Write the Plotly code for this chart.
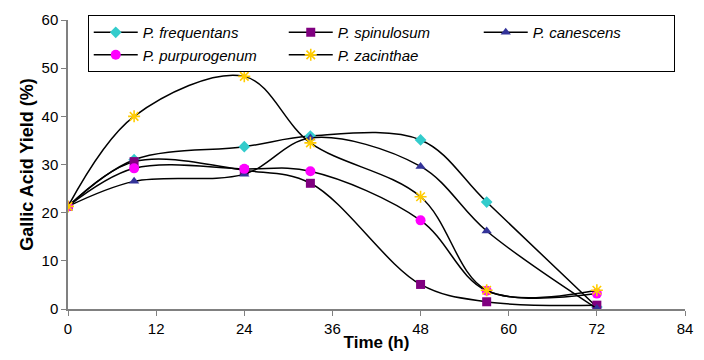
import plotly.graph_objects as go

time_h = [0, 9, 24, 33, 48, 57, 72]
frequentans = [21.3, 31.0, 33.7, 35.9, 35.1, 22.2, 0.4]
spinulosum = [21.3, 30.6, 28.8, 26.1, 5.1, 1.5, 0.8]
canescens = [21.3, 26.5, 28.0, 35.5, 29.6, 16.2, 0.1]
purpurogenum = [21.3, 29.2, 29.1, 28.6, 18.4, 3.8, 3.2]
zacinthae = [21.3, 40.0, 48.3, 34.5, 23.3, 3.9, 3.9]

x_ticks = [0, 12, 24, 36, 48, 60, 72, 84]
y_ticks = [0, 10, 20, 30, 40, 50, 60]

series = [
    ("P. frequentans", frequentans, "diamond", "#33CCCC", 9, None),
    ("P. spinulosum", spinulosum, "square", "#800080", 9, None),
    ("P. canescens", canescens, "triangle-up", "#333399", 9, None),
    ("P. purpurogenum", purpurogenum, "circle", "#FF00FF", 10, None),
    ("P. zacinthae", zacinthae, "asterisk-open", "#FFCC00", 10, 1.6),
]

fig = go.Figure()
for name, vals, sym, col, size, lw in series:
    marker = dict(symbol=sym, color=col, size=size)
    if lw:
        marker["line"] = dict(color=col, width=lw)
    else:
        marker["line"] = dict(width=0)
    fig.add_trace(go.Scatter(
        x=time_h, y=vals, name=name, mode="lines+markers",
        line=dict(color="black", width=1.5, shape="spline", smoothing=1.0),
        marker=marker,
    ))

fig.update_layout(
    width=704, height=360,
    margin=dict(l=68, r=11, t=18, b=48),
    paper_bgcolor="white", plot_bgcolor="white",
    font=dict(family="Liberation Sans, Arial, sans-serif", color="black", size=15),
    showlegend=True,
    legend=dict(
        x=0.032, y=1.017, xanchor="left", yanchor="top",
        orientation="h", entrywidth=136, entrywidthmode="pixels",
        bordercolor="black", borderwidth=1, bgcolor="white",
        font=dict(size=15, family="Liberation Sans, Arial, sans-serif", style="italic"),
        tracegroupgap=0, itemwidth=44,
    ),
    xaxis=dict(
        range=[0, 84], tickvals=x_ticks, ticks="outside", ticklen=5,
        showgrid=False, zeroline=False, showline=True, linecolor="#808080",
        linewidth=1.5, tickcolor="#808080",
        title=dict(text="<b>Time (h)</b>", font=dict(size=17), standoff=0),
        tickfont=dict(size=15),
    ),
    yaxis=dict(
        range=[0, 60], tickvals=y_ticks, ticks="outside", ticklen=5,
        showgrid=False, zeroline=False, showline=True, linecolor="#808080",
        linewidth=1.5, tickcolor="#808080",
        title=dict(text="<b>Gallic Acid Yield (%)</b>", font=dict(size=18), standoff=3),
        tickfont=dict(size=15),
    ),
)

fig.write_html("out.html")
